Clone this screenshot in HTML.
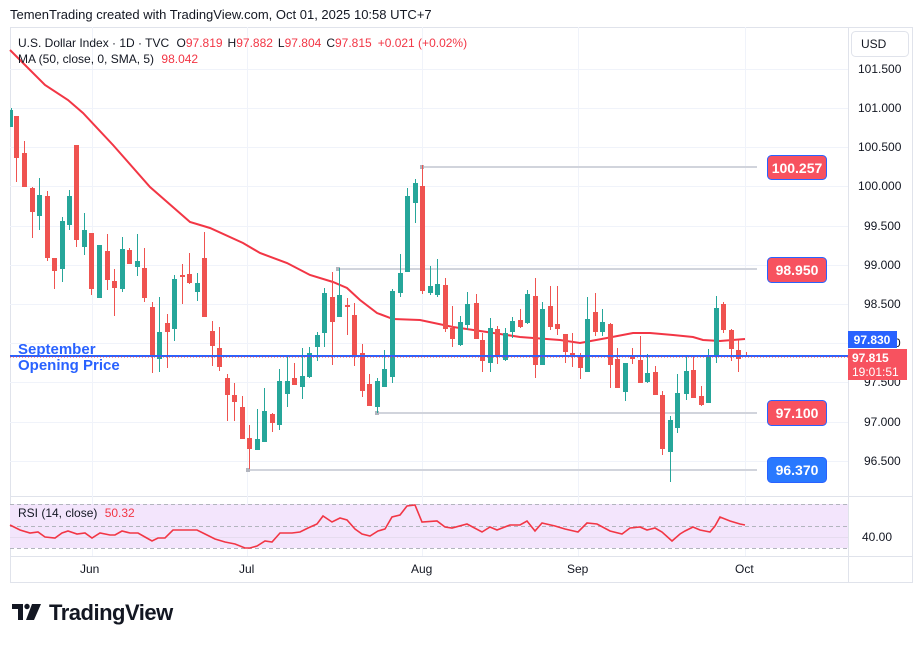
<!DOCTYPE html>
<html><head><meta charset="utf-8"><style>
html,body{margin:0;padding:0;background:#fff;}
body{width:923px;height:643px;overflow:hidden;font-family:"Liberation Sans",sans-serif;}
</style></head><body>
<svg width="923" height="643" xmlns="http://www.w3.org/2000/svg" font-family="Liberation Sans, sans-serif">
<rect width="923" height="643" fill="#fff"/>
<text x="10" y="19" font-size="13" fill="#131722">TemenTrading created with TradingView.com, Oct 01, 2025 10:58 UTC+7</text>
<!-- frame -->
<rect x="10.5" y="27.5" width="902" height="555" fill="#fff" stroke="#e0e3eb"/>
<line x1="848.5" y1="27" x2="848.5" y2="583" stroke="#e0e3eb"/>
<line x1="10" y1="496.5" x2="913" y2="496.5" stroke="#e0e3eb"/>
<line x1="10" y1="556.5" x2="913" y2="556.5" stroke="#e0e3eb"/>
<!-- grid -->
<g stroke="#f0f3fa" stroke-width="1">
<line x1="10" y1="69.5" x2="848" y2="69.5"/><line x1="10" y1="108.5" x2="848" y2="108.5"/><line x1="10" y1="147.5" x2="848" y2="147.5"/><line x1="10" y1="186.5" x2="848" y2="186.5"/><line x1="10" y1="226.5" x2="848" y2="226.5"/><line x1="10" y1="265.5" x2="848" y2="265.5"/><line x1="10" y1="304.5" x2="848" y2="304.5"/><line x1="10" y1="343.5" x2="848" y2="343.5"/><line x1="10" y1="382.5" x2="848" y2="382.5"/><line x1="10" y1="422.5" x2="848" y2="422.5"/><line x1="10" y1="461.5" x2="848" y2="461.5"/>
<line x1="92.5" y1="27" x2="92.5" y2="556"/><line x1="247.5" y1="27" x2="247.5" y2="556"/><line x1="422.5" y1="27" x2="422.5" y2="556"/><line x1="578.5" y1="27" x2="578.5" y2="556"/><line x1="745.5" y1="27" x2="745.5" y2="556"/>
</g>
<!-- axis labels -->
<g font-size="12" fill="#131722">
<text x="858" y="73">101.500</text><text x="858" y="112">101.000</text><text x="858" y="151">100.500</text><text x="858" y="190">100.000</text><text x="864" y="230">99.500</text><text x="864" y="269">99.000</text><text x="864" y="308">98.500</text><text x="864" y="347">98.000</text><text x="864" y="386">97.500</text><text x="864" y="426">97.000</text><text x="864" y="465">96.500</text>
<text x="862" y="541">40.00</text>
<text x="80" y="573">Jun</text><text x="239" y="573">Jul</text><text x="411" y="573">Aug</text><text x="567" y="573">Sep</text><text x="735" y="573">Oct</text>
</g>
<rect x="851.5" y="31.5" width="57" height="25" rx="4" fill="#fff" stroke="#e0e3eb"/>
<text x="861" y="48" font-size="12" fill="#131722">USD</text>
<!-- horizontal level lines -->
<g stroke="#d1d4dc" stroke-width="2">
<line x1="422" y1="167" x2="757" y2="167"/><line x1="338" y1="269" x2="757" y2="269"/><line x1="377" y1="413" x2="757" y2="413"/><line x1="248" y1="470" x2="757" y2="470"/>
</g>
<g fill="#b2b5be"><rect x="420" y="165" width="4" height="4"/><rect x="336" y="267" width="4" height="4"/><rect x="375" y="411" width="4" height="4"/><rect x="246" y="468" width="4" height="4"/></g>
<!-- MA -->
<polyline fill="none" stroke="#f23645" stroke-width="2" points="10,50 25,65 45,85 68,100 83,113 113,145 150,187 190,222 210,228 243,243 260,253 287,263 310,275 333,282 347,288 360,300 377,313 393,319 420,320 453,327 487,332 520,337 560,340 580,343 607,338 633,333 650,333 673,335 693,337 703,340 720,341 745,339"/>
<!-- candles red -->
<g stroke="#ef5350" stroke-width="1" fill="none">
<path d="M16.5 116V182M24.5 141V187M32.5 187V238M47.5 191V261M54.5 258V289M76.5 145V247M91.5 233V295M107.5 234V290M114.5 269V316M129.5 248V264M144.5 248V302M152.5 302V373M167.5 314V368M182.5 264V304M189.5 253V284M204.5 232V317M212.5 321V366M219.5 327V371M227.5 374V421M234.5 383V421M242.5 396V439M249.5 425V469M272.5 413V432M294.5 363V385M332.5 272V365M347.5 298V335M354.5 303V366M362.5 344V397M369.5 374V406M422.5 165V294M445.5 278V332M452.5 306V347M476.5 294V339M482.5 333V372M497.5 326V364M520.5 309V328M535.5 278V378M550.5 286V330M557.5 286V335M565.5 334V363M572.5 333V367M580.5 353V379M595.5 293V336M610.5 323V388M617.5 348V388M632.5 348V364M640.5 336V383M655.5 366V395M662.5 391V455M693.5 357V398M701.5 386V406M723.5 302V333M731.5 329V361M738.5 340V372M746.5 352V357"/>
</g>
<g fill="#ef5350">
<rect x="14" y="116" width="5" height="42"/><rect x="22" y="153" width="5" height="34"/><rect x="30" y="188" width="5" height="24"/><rect x="45" y="196" width="5" height="62"/><rect x="52" y="258" width="5" height="13"/><rect x="74" y="145" width="5" height="95"/><rect x="89" y="233" width="5" height="56"/><rect x="105" y="251" width="5" height="29"/><rect x="112" y="281" width="5" height="7"/><rect x="127" y="250" width="5" height="14"/><rect x="142" y="268" width="5" height="30"/><rect x="150" y="307" width="5" height="50"/><rect x="165" y="323" width="5" height="9"/><rect x="180" y="275" width="5" height="2"/><rect x="187" y="274" width="5" height="9"/><rect x="202" y="258" width="5" height="59"/><rect x="210" y="331" width="5" height="15"/><rect x="217" y="348" width="5" height="19"/><rect x="225" y="378" width="5" height="17"/><rect x="232" y="395" width="5" height="7"/><rect x="240" y="407" width="5" height="32"/><rect x="247" y="438" width="5" height="11"/><rect x="270" y="414" width="5" height="9"/><rect x="292" y="378" width="5" height="7"/><rect x="330" y="297" width="5" height="25"/><rect x="345" y="305" width="5" height="2"/><rect x="352" y="315" width="5" height="41"/><rect x="360" y="353" width="5" height="38"/><rect x="367" y="384" width="5" height="22"/><rect x="420" y="186" width="5" height="105"/><rect x="443" y="285" width="5" height="44"/><rect x="450" y="328" width="5" height="11"/><rect x="474" y="303" width="5" height="36"/><rect x="480" y="340" width="5" height="21"/><rect x="495" y="329" width="5" height="28"/><rect x="518" y="320" width="5" height="7"/><rect x="533" y="296" width="5" height="69"/><rect x="548" y="306" width="5" height="21"/><rect x="555" y="324" width="5" height="5"/><rect x="563" y="334" width="5" height="18"/><rect x="570" y="353" width="5" height="4"/><rect x="578" y="355" width="5" height="13"/><rect x="593" y="312" width="5" height="20"/><rect x="608" y="324" width="5" height="41"/><rect x="615" y="359" width="5" height="29"/><rect x="630" y="357" width="5" height="2"/><rect x="638" y="360" width="5" height="23"/><rect x="653" y="372" width="5" height="23"/><rect x="660" y="395" width="5" height="54"/><rect x="691" y="370" width="5" height="28"/><rect x="699" y="396" width="5" height="9"/><rect x="721" y="304" width="5" height="26"/><rect x="729" y="330" width="5" height="19"/><rect x="736" y="350" width="5" height="9"/><rect x="744" y="355" width="5" height="2"/>
</g>
<!-- candles green -->
<g stroke="#26a69a" stroke-width="1" fill="none">
<path d="M11.5 108V127M39.5 178V230M62.5 217V282M69.5 190V230M84.5 213V255M99.5 245V298M122.5 237V292M137.5 234V276M159.5 297V372M174.5 275V341M197.5 273V301M257.5 409V450M264.5 388V442M279.5 369V430M287.5 356V407M302.5 348V399M309.5 347V378M317.5 332V361M324.5 288V347M339.5 268V317M377.5 378V413M384.5 350V387M392.5 289V383M400.5 254V297M407.5 188V272M415.5 179V223M430.5 266V295M437.5 259V297M460.5 316V346M467.5 292V330M490.5 318V372M505.5 328V361M512.5 317V338M527.5 290V324M542.5 302V365M587.5 297V372M602.5 309V336M625.5 363V401M647.5 354V383M670.5 416V482M677.5 374V433M686.5 357V400M708.5 349V403M716.5 296V363"/>
</g>
<g fill="#26a69a">
<rect x="10" y="110" width="3" height="17"/><rect x="37" y="195" width="5" height="21"/><rect x="60" y="221" width="5" height="48"/><rect x="67" y="196" width="5" height="29"/><rect x="82" y="230" width="5" height="17"/><rect x="97" y="245" width="5" height="53"/><rect x="120" y="249" width="5" height="40"/><rect x="135" y="261" width="5" height="6"/><rect x="157" y="332" width="5" height="27"/><rect x="172" y="279" width="5" height="50"/><rect x="195" y="283" width="5" height="9"/><rect x="255" y="439" width="5" height="11"/><rect x="262" y="411" width="5" height="31"/><rect x="277" y="381" width="5" height="44"/><rect x="285" y="381" width="5" height="13"/><rect x="300" y="376" width="5" height="11"/><rect x="307" y="353" width="5" height="24"/><rect x="315" y="335" width="5" height="12"/><rect x="322" y="293" width="5" height="40"/><rect x="337" y="295" width="5" height="22"/><rect x="375" y="381" width="5" height="26"/><rect x="382" y="369" width="5" height="18"/><rect x="390" y="291" width="5" height="86"/><rect x="398" y="273" width="5" height="20"/><rect x="405" y="196" width="5" height="76"/><rect x="413" y="183" width="5" height="20"/><rect x="428" y="286" width="5" height="7"/><rect x="435" y="284" width="5" height="11"/><rect x="458" y="322" width="5" height="23"/><rect x="465" y="304" width="5" height="21"/><rect x="488" y="328" width="5" height="35"/><rect x="503" y="333" width="5" height="27"/><rect x="510" y="321" width="5" height="11"/><rect x="525" y="294" width="5" height="29"/><rect x="540" y="309" width="5" height="56"/><rect x="585" y="319" width="5" height="53"/><rect x="600" y="322" width="5" height="10"/><rect x="623" y="363" width="5" height="29"/><rect x="645" y="373" width="5" height="9"/><rect x="668" y="420" width="5" height="32"/><rect x="675" y="393" width="5" height="35"/><rect x="684" y="371" width="5" height="23"/><rect x="706" y="356" width="5" height="47"/><rect x="714" y="308" width="5" height="49"/>
</g>
<!-- Sept opening line -->
<line x1="10" y1="356" x2="848" y2="356" stroke="#2962ff" stroke-width="2"/>
<line x1="10" y1="357" x2="848" y2="357" stroke="#f23645" stroke-width="1" stroke-dasharray="1,2"/>
<text x="18" y="354" font-size="15" font-weight="bold" fill="#2962ff">September</text>
<text x="18" y="370" font-size="15" font-weight="bold" fill="#2962ff">Opening Price</text>
<!-- level labels -->
<g font-size="14" font-weight="bold" fill="#fff" text-anchor="middle">
<rect x="767.5" y="155.5" width="59" height="24" rx="4" fill="#f7525f" stroke="#2962ff"/><text x="797" y="173">100.257</text>
<rect x="767.5" y="257.5" width="59" height="25" rx="4" fill="#f7525f" stroke="#2962ff"/><text x="797" y="275">98.950</text>
<rect x="767.5" y="400.5" width="59" height="25" rx="4" fill="#f7525f" stroke="#2962ff"/><text x="797" y="418">97.100</text>
<rect x="767.5" y="457.5" width="59" height="25" rx="4" fill="#2979ff" stroke="#2962ff"/><text x="797" y="475">96.370</text>
</g>
<rect x="848" y="331" width="49" height="17" fill="#2962ff"/>
<text x="872" y="344" font-size="12" font-weight="bold" fill="#fff" text-anchor="middle">97.830</text>
<rect x="848" y="349" width="59" height="31" fill="#f7525f"/>
<text x="852" y="362" font-size="12" font-weight="bold" fill="#fff">97.815</text>
<text x="852" y="376" font-size="12" fill="#fff">19:01:51</text>
<!-- legend -->
<g font-size="12">
<text x="18" y="47" fill="#131722">U.S. Dollar Index · 1D · TVC <tspan dx="4">O</tspan><tspan fill="#f23645">97.819</tspan><tspan dx="5">H</tspan><tspan fill="#f23645">97.882</tspan><tspan dx="5">L</tspan><tspan fill="#f23645">97.804</tspan><tspan dx="5">C</tspan><tspan fill="#f23645">97.815</tspan><tspan dx="6" fill="#f23645">+0.021 (+0.02%)</tspan></text>
<text x="18" y="63" fill="#131722">MA (50, close, 0, SMA, 5) <tspan dx="4" fill="#f23645">98.042</tspan></text>
</g>
<!-- RSI -->
<rect x="10" y="504" width="838" height="44" fill="#f3e5fc"/>
<g stroke="#b2b5be" stroke-dasharray="4,3"><line x1="10" y1="504.5" x2="848" y2="504.5"/><line x1="10" y1="526.5" x2="848" y2="526.5"/><line x1="10" y1="548.5" x2="848" y2="548.5"/></g>
<line x1="10" y1="537.5" x2="848" y2="537.5" stroke="#e6dcef"/>
<text x="18" y="517" font-size="12" fill="#131722">RSI (14, close) <tspan dx="4" fill="#f23645">50.32</tspan></text>
<polyline fill="none" stroke="#f23645" stroke-width="1.6" points="10,525 20,530 30,533 38,532 45,537 55,538 62,533 68,531 77,534 85,533 92,538 100,533 110,535 115,535 122,531 130,533 138,533 145,537 152,541 158,538 165,538 173,530 197,530 205,534 215,539 225,542 235,544 245,548 250,548 257,546 265,541 272,542 280,533 292,533 300,532 308,528 317,524 323,516 332,522 340,518 347,520 355,529 362,534 370,536 378,531 385,529 392,517 400,515 407,506 415,505 422,522 437,521 445,527 452,528 467,524 482,532 490,527 497,530 510,525 520,525 527,521 535,531 542,523 555,526 565,529 578,532 587,523 597,524 610,531 622,534 630,528 640,527 647,530 655,528 662,532 672,541 680,534 685,531 693,527 700,530 710,532 715,526 720,517 730,521 740,524 745,525"/>
<!-- logo -->
<g fill="#131722">
<rect x="12" y="604" width="11" height="5"/><rect x="18" y="604" width="5" height="16"/>
<circle cx="27" cy="606.5" r="2.7"/>
<polygon points="32,604 41,604 34,620 26,620"/>
</g>
<text x="49" y="620" font-size="22" font-weight="bold" fill="#131722" letter-spacing="-0.5">TradingView</text>
</svg>
</body></html>
